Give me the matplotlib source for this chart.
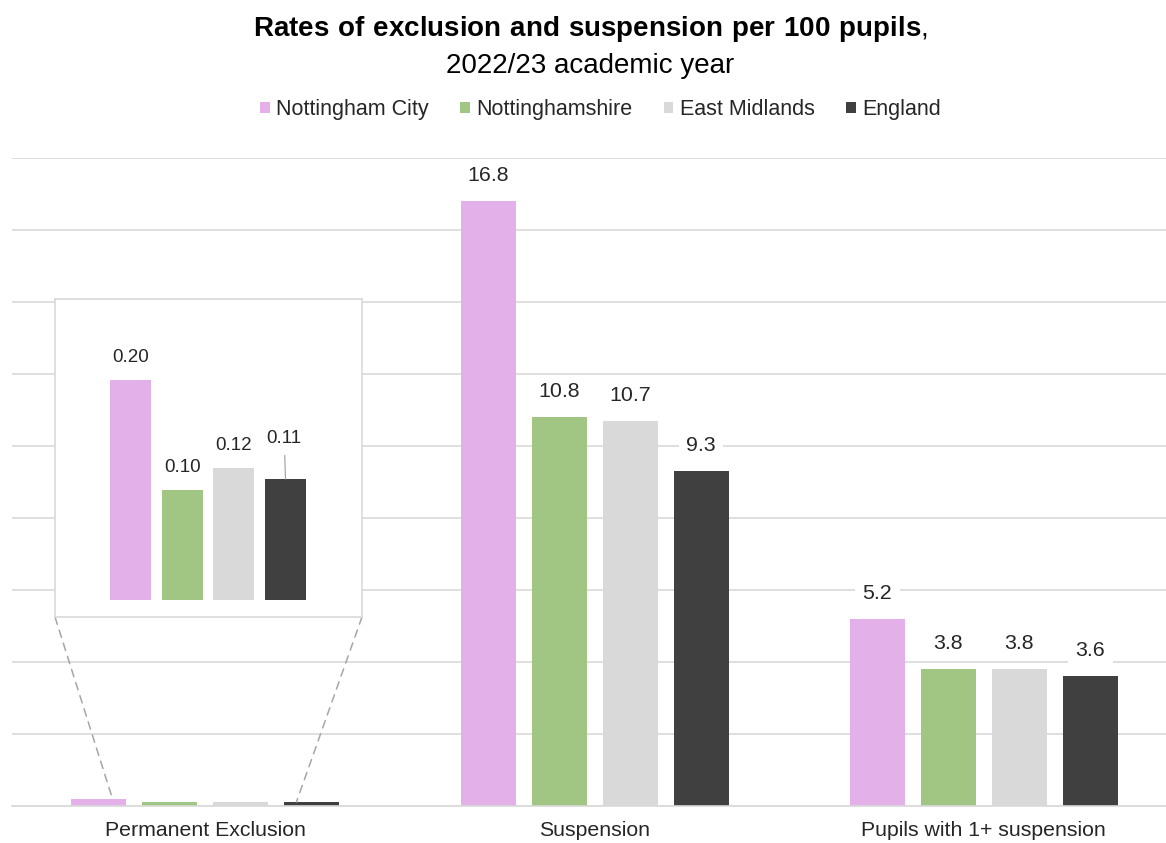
import matplotlib.pyplot as plt
import numpy as np
from matplotlib.patches import ConnectionPatch

plt.rcParams['font.family'] = ['Liberation Sans', 'DejaVu Sans']
plt.rcParams['mathtext.fontset'] = 'custom'
plt.rcParams['mathtext.rm'] = 'Liberation Sans'
plt.rcParams['mathtext.bf'] = 'Liberation Sans:bold'

categories = ['Permanent Exclusion', 'Suspension', 'Pupils with 1+ suspension']
areas = ['Nottingham City', 'Nottinghamshire', 'East Midlands', 'England']
colours = ['#e4b0e9', '#a1c683', '#d9d9d9', '#404040']

nottingham_city = [0.20, 16.8, 5.2]
nottinghamshire = [0.10, 10.8, 3.8]
east_midlands = [0.12, 10.7, 3.8]
england = [0.11, 9.3, 3.6]
series = [nottingham_city, nottinghamshire, east_midlands, england]

label_fmt = ['{:.2f}', '{:.1f}', '{:.1f}']

fig = plt.figure(figsize=(11.66, 8.43), dpi=100)
ax = fig.add_axes([12 / 1166, 37 / 843, 1154 / 1166, 648 / 843])

x = np.arange(len(categories))
step = 0.1825
width = 0.1414
offsets = (np.arange(len(areas)) - 1.5) * step

bars = []
for k, vals in enumerate(series):
    b = ax.bar(x + offsets[k], vals, width, color=colours[k], label=areas[k], zorder=2)
    bars.append(b)
    # the first category is too small to read, its labels sit in the zoom box
    for i in range(1, len(categories)):
        ax.annotate(label_fmt[i].format(vals[i]), (x[i] + offsets[k], vals[i]),
                    xytext=(0, 18.5), textcoords='offset points', ha='center', va='center',
                    fontsize=15.4, color='#262626', zorder=3,
                    bbox=dict(boxstyle='square,pad=0.35', fc='white', ec='none'))

ax.set_xlim(-0.497, 2.468)
ax.set_ylim(0, 18)
ax.set_yticks(np.arange(0, 19, 2))
ax.yaxis.grid(True, color='#d9d9d9', linewidth=1.2, zorder=0)
ax.set_axisbelow(True)
ax.tick_params(axis='y', left=False, labelleft=False)
ax.tick_params(axis='x', length=0, pad=11, labelsize=15.3, labelcolor='#262626')
ax.set_xticks(x)
ax.set_xticklabels(categories)
for s in ['top', 'right', 'left']:
    ax.spines[s].set_visible(False)
ax.spines['bottom'].set_color('#d9d9d9')
ax.spines['bottom'].set_linewidth(1.2)

# zoom box for permanent exclusion
ins = fig.add_axes([55 / 1166, 226 / 843, 307 / 1166, 318 / 843])
ins.set_facecolor('white')
ins.set_zorder(5)
xi = np.arange(len(areas))
pe = [s[0] for s in series]
ins.bar(xi, pe, 0.79, color=colours)
for k, v in enumerate(pe):
    if areas[k] == 'England':
        ins.annotate('{:.2f}'.format(v), (xi[k], v), xytext=(-1, 29), textcoords='offset points',
                     ha='center', va='center', fontsize=13.5, color='#262626',
                     arrowprops=dict(arrowstyle='-', color='#a6a6a6', lw=0.9,
                                     shrinkA=4, shrinkB=0))
    else:
        ins.annotate('{:.2f}'.format(v), (xi[k], v), xytext=(0, 16), textcoords='offset points',
                     ha='center', va='center', fontsize=13.5, color='#262626')
ins.set_xlim(-1.46, 4.48)
ins.set_ylim(-0.0155, 0.2736)
ins.set_xticks([])
ins.set_yticks([])
for s in ins.spines.values():
    s.set_color('#d9d9d9')
    s.set_linewidth(1.2)

for corner, k, dx in [((0, 0), 0, 0.035), ((1, 0), 3, -0.04)]:
    con = ConnectionPatch(xyA=corner, coordsA=ins.transAxes,
                          xyB=(x[0] + offsets[k] + dx, series[k][0]), coordsB=ax.transData,
                          color='#a6a6a6', linestyle=(0, (5, 4)), linewidth=1.1)
    fig.add_artist(con)

fig.text(0.506, 0.966, r'$\mathbf{Rates\ of\ exclusion\ and\ suspension\ per\ 100\ pupils}$,',
         ha='center', va='center', fontsize=20, color='black')
fig.text(0.506, 0.922, '2022/23 academic year', ha='center', va='center', fontsize=20,
         color='black')

fig.legend(handles=bars, labels=areas, loc='center', bbox_to_anchor=(0.515, 0.870), ncol=4,
           frameon=False, fontsize=15.5, handlelength=0.45, handleheight=0.45,
           handletextpad=0.3, columnspacing=1.45, labelcolor='#262626')

fig.savefig('out.png', dpi=100)
